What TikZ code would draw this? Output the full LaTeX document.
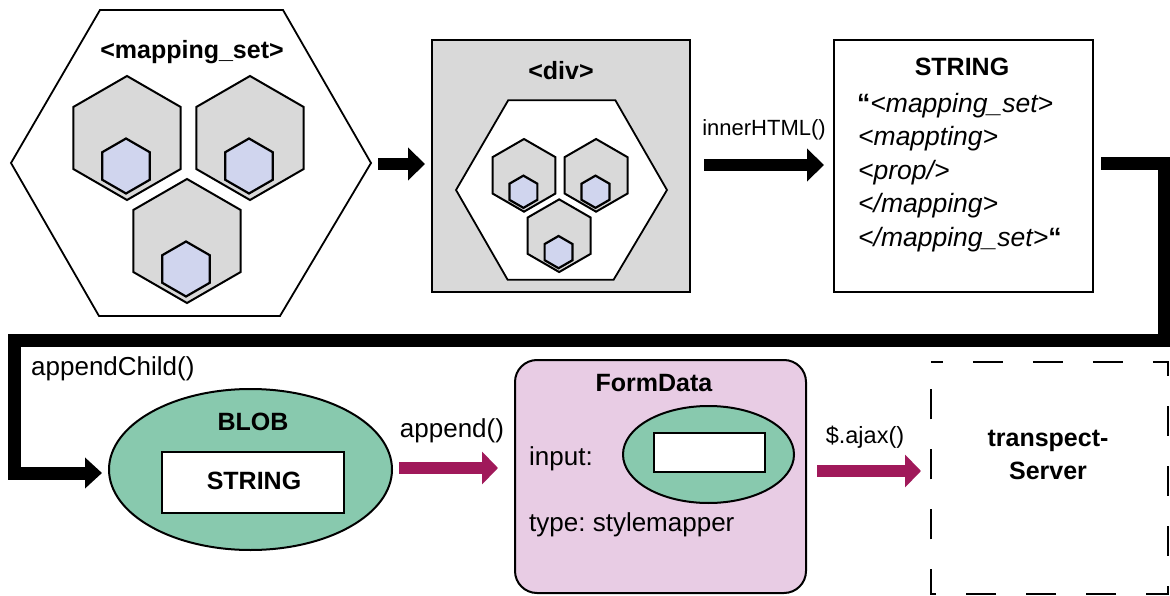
\documentclass[tikz,border=0pt]{standalone}
\usepackage{fontspec}
\setmainfont{Liberation Sans}
\usetikzlibrary{arrows.meta,shapes.geometric,calc}
\frenchspacing
\definecolor{hexgray}{HTML}{D9D9D9}
\definecolor{lav}{HTML}{D0D5EE}
\definecolor{mint}{HTML}{88C9AE}
\definecolor{formpink}{HTML}{E8CCE4}
\definecolor{plum}{HTML}{A0195A}
\newcommand\pointyhex[3]{\draw[#3] (#1) ++(90:#2) -- ++(210:#2) -- ++(270:#2) -- ++(330:#2) -- ++(30:#2) -- ++(90:#2) -- cycle;}
\newcommand\mscluster{%
  \draw[line width=1.8pt, fill=white, line join=miter] (-91,-153) -- (92,-153) -- (180,0) -- (89,153) -- (-92,153) -- (-180,0) -- cycle;
  \pointyhex{-64,-25}{62}{medhex}
  \pointyhex{59,-25}{62}{medhex}
  \pointyhex{-4,78}{62}{medhex}
  \pointyhex{-65,3}{27.5}{smallhex}
  \pointyhex{58,3}{27.5}{smallhex}
  \pointyhex{-5,106}{27.5}{smallhex}
}
\begin{document}
\begin{tikzpicture}[x=1pt,y=-1pt,
  medhex/.style={line width=2pt, fill=hexgray, line join=miter},
  smallhex/.style={line width=2.2pt, fill=lav, line join=miter},
  boxstyle/.style={draw, line width=2pt, inner sep=0pt},
  bold/.style={font=\fontsize{25}{30}\selectfont\bfseries, inner sep=0pt, anchor=base},
  lbl/.style={inner sep=0pt, anchor=base},
  itl/.style={font=\fontsize{26.5}{30}\selectfont\itshape, inner sep=0pt, anchor=base west},
  blkarrow/.style={line width=12.5pt, -{Triangle[width=32pt,length=17pt]}},
  blkline/.style={line width=13pt, line join=miter, -{Triangle[width=30pt,length=17pt]}},
  plumarrow/.style={plum, line width=12pt, -{Triangle[width=32pt,length=16pt]}},
  dashbox/.style={line width=2pt, dash pattern=on 30pt off 30pt, dash phase=18pt}
]
\useasboundingbox (0,0) rectangle (1170,596);

% --- mapping_set hexagon cluster
\begin{scope}[shift={(191,163)}]
  \mscluster
\end{scope}
\node[bold] (mstitle) at (192,59) {<mapping\_set>};

% arrow 1
\coordinate (a1s) at (378,164);
\coordinate (a1e) at (425,164);
\draw[blkarrow] (a1s) -- (a1e);

% --- div box
\node[boxstyle, fill=hexgray, minimum width=258pt, minimum height=252pt] (div) at (561,166) {};
\begin{scope}[shift={(561.5,190)}, scale=0.586]
  \mscluster
\end{scope}
\node[bold] (divtitle) at (561,80) {<div>};

% arrow 2
\coordinate (a2s) at (704,165);
\coordinate (a2e) at (824,165);
\draw[blkarrow] (a2s) -- (a2e);
\node[lbl, font=\fontsize{22}{26}\selectfont] (innerlbl) at (764,136) {innerHTML()};

% --- STRING box
\node[boxstyle, fill=white, minimum width=259pt, minimum height=252pt] (strbox) at (963.5,166) {};
\node[bold] (strtitle) at (962,76) {STRING};
\node[itl] (l1) at (857,113) {{\upshape\bfseries “}<mapping\_set>};
\node[itl] (l2) at (858,146) {<mappting>};
\node[itl] (l3) at (858,180) {<prop/>};
\node[itl] (l4) at (858,213) {</mapping>};
\node[itl] (l5) at (858,247) {</mapping\_set>{\upshape\bfseries “}};

% --- big connector
\coordinate (c1) at (1101,163.5);
\coordinate (r1) at (1164,340);
\coordinate (l1c) at (14,473);
\coordinate (a3e) at (102,473);
\draw[blkline] (c1) -| (r1) -| (l1c) -- (a3e);
\node[lbl, anchor=base west, font=\fontsize{26}{30}\selectfont] (aclbl) at (31,375) {appendChild()};

% --- BLOB
\node[ellipse, draw, line width=2pt, fill=mint, minimum width=283pt, minimum height=161pt, inner sep=0pt] (blob) at (250.5,469.5) {};
\node[bold] (blobtitle) at (253,430) {BLOB};
\node[boxstyle, fill=white, minimum width=182pt, minimum height=61pt] (blobstr) at (253,482.5) {};
\node[bold] (blobstrtxt) at (254,489) {STRING};

% arrow append
\coordinate (a4s) at (399,468);
\coordinate (a4e) at (498,468);
\draw[plumarrow] (a4s) -- (a4e);
\node[lbl, font=\fontsize{26}{30}\selectfont] (applbl) at (452,437) {append()};

% --- FormData
\node[draw, line width=2pt, fill=formpink, rounded corners=22pt, minimum width=291pt, minimum height=233pt] (form) at (660.5,476.5) {};
\node[bold] (formtitle) at (654,391) {FormData};
\node[ellipse, draw, line width=2pt, fill=mint, minimum width=171pt, minimum height=97pt, inner sep=0pt] (formell) at (708.5,454.5) {};
\node[boxstyle, fill=white, minimum width=111pt, minimum height=39pt] (formrect) at (709.5,452.5) {};
\node[lbl, anchor=base west, font=\fontsize{26}{30}\selectfont] (inputlbl) at (529,465) {input:};
\node[lbl, anchor=base west, font=\fontsize{26}{30}\selectfont] (typelbl) at (529,531) {type: stylemapper};

% arrow ajax
\coordinate (a5s) at (817,471);
\coordinate (a5e) at (921,471);
\draw[plumarrow] (a5s) -- (a5e);
\node[lbl, font=\fontsize{23.5}{28}\selectfont] (ajaxlbl) at (865,443) {\$.ajax()};

% --- transpect server
\node[minimum width=237pt, minimum height=232pt, inner sep=0pt] (server) at (1049.5,478) {};
\draw[dashbox] (server.north west) -- (server.north east) -- (server.south east) -- (server.south west) -- cycle;
\node[bold] (srv1) at (1048,446) {transpect-};
\node[bold] (srv2) at (1048,479) {Server};
\end{tikzpicture}
\end{document}
